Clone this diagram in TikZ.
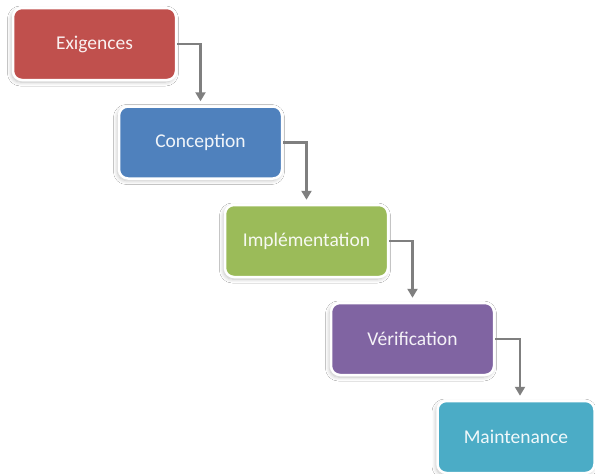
\documentclass[tikz,border=0pt]{standalone}
\usepackage{fontspec}
\setmainfont{Carlito}
\usetikzlibrary{shadows.blur,arrows.meta}
\definecolor{phasered}{HTML}{C0504D}
\definecolor{phaseblue}{HTML}{4F81BD}
\definecolor{phasegreen}{HTML}{9BBB59}
\definecolor{phasepurple}{HTML}{8064A2}
\definecolor{phaseteal}{HTML}{4BACC6}
\definecolor{flowgrey}{HTML}{7F7F7F}
\tikzset{
  phase/.style={rounded corners=9pt, minimum width=163pt, minimum height=72pt,
    draw=white, line width=2.5pt, text=white, text opacity=0.92,
    font=\fontsize{19.5}{23}\selectfont, inner sep=0pt,
    blur shadow={shadow xshift=-1.5pt, shadow yshift=-2pt, shadow blur radius=4pt, shadow opacity=25, shadow blur steps=8}},
  flow/.style={draw=flowgrey, line width=2.5pt, -{Triangle[length=9pt,width=10pt]}, shorten >=4pt}
}
\begin{document}
\begin{tikzpicture}[x=1pt,y=-1pt]
\useasboundingbox (0,0) rectangle (595,474);
\fill[white] (0,0) rectangle (595,474);
\node[phase, fill=phasered]    (req)  at (94.5,44)  {Exigences};
\node[phase, fill=phaseblue]   (des)  at (200.5,142.5) {Conception};
\node[phase, fill=phasegreen]  (impl) at (306.5,241) {Implémentation};
\node[phase, fill=phasepurple] (ver)  at (412.5,339) {Vérification};
\node[phase, fill=phaseteal, minimum width=157pt] (mnt) at (516,437) {Maintenance};
\draw[flow] (req.east)  -| (des.north);
\draw[flow] (des.east)  -| (impl.north);
\draw[flow] (impl.east) -| (ver.north);
\draw[flow] (ver.east)  -| ([xshift=4pt]mnt.north);
\end{tikzpicture}
\end{document}
